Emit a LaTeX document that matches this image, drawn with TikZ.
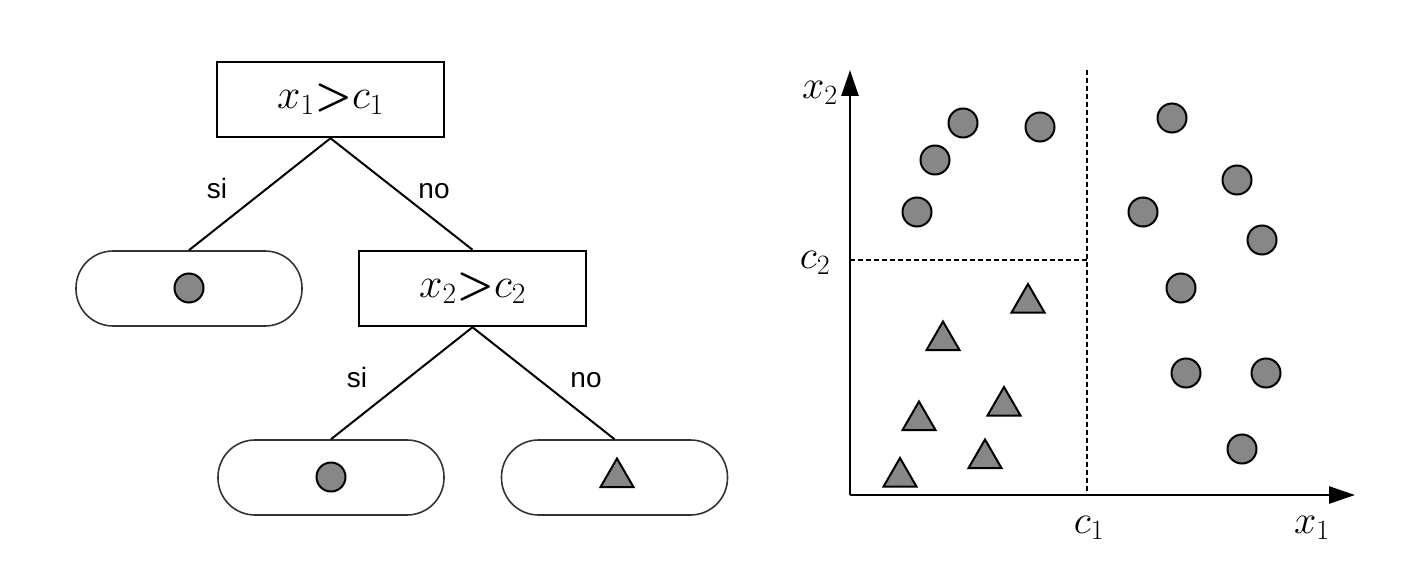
\RequirePackage{fix-cm}
\documentclass[tikz,border=0pt]{standalone}
\usepackage{amsmath}
\usepackage[no-math]{fontspec}
\newfontfamily\labfont{Liberation Sans}
\usetikzlibrary{shapes.geometric,arrows.meta}
\definecolor{ptgray}{HTML}{878787}
\definecolor{leafline}{HTML}{333333}
\tikzset{
  split/.style={draw=black,line width=2.5pt,minimum width=227pt,minimum height=75pt,inner sep=0pt,font=\fontsize{42}{48}\selectfont},
  leaf/.style={draw=leafline,line width=1.6pt,rounded corners=37pt,minimum width=226pt,minimum height=75pt,inner sep=0pt},
  dot/.style={circle,draw=black,line width=2pt,fill=ptgray,minimum size=29pt,inner sep=0pt},
  tri/.style={regular polygon,regular polygon sides=3,draw=black,line width=2pt,fill=ptgray,minimum size=38pt,inner sep=0pt},
  edge/.style={line width=2pt,black},
  lab/.style={font=\labfont\fontsize{28}{30}\selectfont,anchor=base,inner sep=0pt},
  axlab/.style={font=\fontsize{40}{46}\selectfont,anchor=base,inner sep=0pt},
  axis/.style={line width=2.6pt,-{Triangle[length=26pt,width=17pt]}},
  cut/.style={line width=2pt,dash pattern=on 5pt off 3pt}
}
\begin{document}
\begin{tikzpicture}[x=1pt,y=-1pt]
\useasboundingbox[fill=white] (0,0) rectangle (1403,567);
% tree
\node[split] (b1) at (330.5,99.5) {$x_{1}{\boldsymbol{>}}c_{1}$};
\node[split] (b2) at (472.5,288.5) {$x_{2}{\boldsymbol{>}}c_{2}$};
\node[leaf] (l1) at (189,288.5) {};
\node[leaf] (l2) at (331,477.5) {};
\node[leaf] (l3) at (614.5,477.5) {};
\node[dot] (d1) at (189,288) {};
\node[dot] (d2) at (331,477) {};
\node[tri] (t0) at (617,477.5) {};
\draw[edge] (b1.south) -- (l1.north);
\draw[edge] (b1.south) -- (b2.north);
\draw[edge] (b2.south) -- (l2.north);
\draw[edge] (b2.south) -- (l3.north);
\node[lab] (s1) at (217,198) {si};
\node[lab] (n1) at (434,198) {no};
\node[lab] (s2) at (357,387) {si};
\node[lab] (n2) at (586,387) {no};
% plot
\coordinate (o) at (850,495);
\coordinate (ytip) at (850,70);
\coordinate (xtip) at (1355,495);
\coordinate (c1top) at (1087,70);
\coordinate (c1bot) at (1087,495);
\coordinate (c2l) at (850,260);
\coordinate (c2r) at (1087,260);
\draw[cut] (c1top) -- (c1bot);
\draw[cut] (c2l) -- (c2r);
\draw[axis] (o) -- (ytip);
\draw[axis] (o) -- (xtip);
\node[axlab] (lx2) at (820,99) {$x_{2}$};
\node[axlab] (lc2) at (815,268) {$c_{2}$};
\node[axlab] (lc1) at (1089,533) {$c_{1}$};
\node[axlab] (lx1) at (1312,533) {$x_{1}$};
\foreach \n/\x/\y in {p1/963/123,p2/1040/127,p3/935/160,p4/917/212,p5/1172/118,p6/1237/180,p7/1143/212,p8/1262/240,p9/1181/288,p10/1186/373,p11/1266/373,p12/1242/449}
  \node[dot] (\n) at (\x,\y) {};
\foreach \n/\x/\y in {t1/1028/303,t2/943/340.5,t3/1004/406,t4/919/420.5,t5/985/458.5,t6/900/477}
  \node[tri] (\n) at (\x,\y) {};
\end{tikzpicture}
\end{document}
